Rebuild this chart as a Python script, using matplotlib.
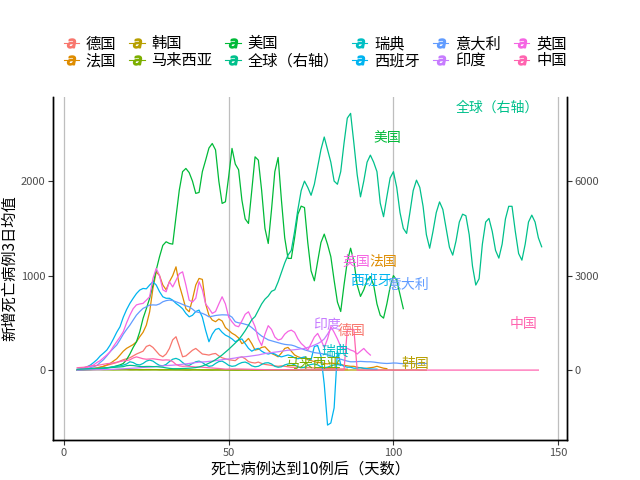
import matplotlib
matplotlib.use("Agg")
import matplotlib.pyplot as plt
from matplotlib.lines import Line2D
import numpy as np

plt.rcParams['font.family'] = ['Noto Sans CJK SC', 'DejaVu Sans']
plt.rcParams['axes.unicode_minus'] = False

# 各序列均从第4天开始，逐日取值（3日均值）
START = 4

germany = [3, 5, 8, 12, 15, 20, 25, 32, 40, 50,
           60, 70, 80, 95, 110, 120, 130, 150, 170, 185,
           200, 250, 264, 240, 200, 160, 141, 170, 229, 320,
           353, 250, 141, 150, 180, 210, 229, 200, 170, 165,
           159, 170, 176, 150, 130, 120, 110, 105, 100, 130,
           140, 120, 90, 80, 75, 85, 70, 60, 55, 50,
           45, 40, 45, 40, 35, 30, 30, 30, 28, 25,
           25, 25, 22, 20, 20, 18, 18, 15, 15, 15,
           12, 12, 10]

france = [2, 3, 5, 7, 10, 14, 20, 30, 40, 55,
          70, 95, 120, 159, 200, 230, 250, 270, 300, 353,
          400, 476, 617, 864, 1040, 1000, 900, 850, 935, 1000,
          1093, 900, 780, 650, 617, 750, 900, 970, 960, 700,
          580, 530, 512, 540, 520, 450, 420, 390, 370, 340,
          280, 300, 335, 280, 212, 220, 240, 247, 210, 176,
          160, 141, 180, 229, 240, 200, 160, 141, 130, 130,
          110, 100, 90, 80, 80, 70, 65, 75, 70, 70,
          60, 50, 45, 40, 40, 30, 25, 18, 20, 25,
          30, 40, 30, 20, 15]

korea = [3, 4, 5, 5, 6, 6, 7, 7, 6, 6,
         5, 5, 6, 6, 5, 5, 4, 4, 5, 5,
         5, 6, 6, 5, 5, 4, 4, 4, 5, 5,
         4, 4, 3, 3, 3, 4, 4, 3, 3, 3,
         3, 2, 2, 2, 2, 2, 2, 2, 1, 1,
         1, 1, 1, 1, 1, 1, 1, 1, 1, 1,
         1, 1, 1, 1, 1, 1, 0, 0, 0, 1,
         1, 1, 1, 1, 1, 0, 0, 0, 0, 0,
         0, 0, 0, 1, 1, 1, 0, 0, 0, 0,
         0, 0, 1, 1, 1, 1, 0, 0, 0, 0,
         0, 1, 1, 1, 0, 0, 0]

malaysia = [1, 2, 2, 3, 3, 4, 4, 4, 3, 3,
            3, 2, 2, 2, 3, 3, 2, 2, 2, 1,
            1, 1, 1, 2, 2, 1, 1, 1, 1, 1,
            1, 1, 1, 0, 0, 1, 1, 1, 0, 0,
            0, 0, 1, 1, 1, 0, 0, 0, 0, 0,
            1, 1, 1, 0, 0, 0, 0, 0, 0, 0,
            0, 0, 0, 0, 0, 0, 0, 0, 1, 1,
            1, 0, 0, 0, 0, 0, 0, 0, 0, 0]

usa = [2, 3, 4, 5, 6, 8, 10, 14, 18, 22,
       28, 35, 45, 55, 70, 110, 170, 240, 300, 406,
       547, 650, 760, 900, 1060, 1200, 1320, 1358, 1340, 1333,
       1622, 1905, 2100, 2134, 2090, 2000, 1870, 1880, 2100, 2222,
       2350, 2398, 2330, 2000, 1764, 1781, 2050, 2346, 2180, 2120,
       1800, 1600, 1552, 1900, 2257, 2222, 1900, 1500, 1340, 1700,
       2100, 2250, 1800, 1400, 1182, 1182, 1400, 1650, 1735, 1720,
       1350, 1050, 945, 1150, 1350, 1439, 1330, 1200, 950, 720,
       620, 900, 1150, 1290, 1150, 900, 780, 850, 950, 990,
       900, 700, 580, 550, 700, 880, 1000, 950, 800, 650]

world = [25, 30, 35, 40, 45, 50, 55, 60, 65, 72,
         78, 85, 92, 100, 110, 140, 150, 145, 130, 115,
         110, 115, 115, 110, 110, 100, 90, 70, 55, 45,
         45, 45, 50, 55, 60, 70, 80,
         100, 130, 170, 220, 270, 330, 400, 480, 570, 660,
         760, 860, 960, 1100, 1250, 1420, 1600, 1700, 1900, 2100,
         2250, 2350, 2500, 2550, 2800, 3100, 3400, 3650, 3800, 4400,
         5100, 5700, 6000, 5800, 5550, 5900, 6450, 7000, 7400, 7000,
         6600, 6000, 5900,
         6300, 7200, 8000, 8150, 7200, 6200, 5500, 6000, 6600, 6825,
         6600, 6300, 5300, 4870, 5500, 6100, 6300, 5800, 5000, 4500,
         4340, 5000, 5700, 6030, 5800, 5200, 4300, 3870, 4400, 5000,
         5340, 5100, 4500, 3900, 3650, 4100, 4700, 4950, 4900, 4300,
         3300, 2700, 2900, 4000, 4700, 4815, 4400, 3800, 3555, 4000,
         4800, 5200, 5200, 4400, 3700, 3490, 4000, 4700, 4920, 4700,
         4200, 3915]

sweden = [3, 4, 6, 8, 10, 12, 15, 18, 20, 25,
          30, 35, 40, 45, 53, 65, 88, 80, 60, 55,
          70, 95, 106, 95, 70, 50, 45, 60, 90, 115,
          124, 110, 80, 55, 50, 70, 88, 95, 80, 55,
          40, 45, 70, 90, 95, 75, 50, 40, 45, 65,
          80, 85, 70, 45, 35, 40, 60, 75, 78, 65,
          40, 30, 35, 55, 65, 70, 55, 35, 25, 30,
          50, 60, 65, 55, 35, 25, 30, 45, 55, 60,
          50]

spain = [5, 10, 20, 35, 53, 80, 110, 150, 180, 212,
         265, 330, 400, 459, 560, 640, 706, 760, 810, 847,
         864, 860, 900, 935, 900, 830, 776, 760, 760, 740,
         706, 680, 650, 600, 564, 580, 620, 635, 560, 420,
         300, 380, 430, 441, 400, 370, 353, 330, 300, 320,
         330, 280, 230, 200, 220, 230, 200, 180, 170, 180,
         170, 150, 140, 150, 160, 150, 130, 120, 130, 140,
         120, 110, 250, 260, 150, -150, -582, -560, -400, 200,
         60, 40, 30, 30, 20, 20, 25, 20, 15, 12,
         10, 10]

italy = [5, 8, 12, 18, 25, 35, 50, 80, 110, 150,
         194, 230, 265, 320, 380, 430, 476, 530, 582, 620,
         653, 670, 688, 690, 688, 700, 723, 735, 741, 735,
         723, 710, 695, 680, 670, 645, 617, 610, 600, 585,
         564, 570, 578, 582, 585, 584, 582, 560, 511, 500,
         495, 485, 476, 450, 420, 388, 360, 340, 320, 310,
         300, 290, 280, 272, 268, 265, 255, 240, 229, 215,
         205, 194, 185, 180, 176, 170, 160, 150, 140, 125,
         115, 105, 95, 88, 88, 90, 92, 90, 88, 88,
         85, 80, 75, 72, 70, 72, 75, 74, 70, 68,
         70, 72, 70, 68, 70, 72, 70]

india = [1, 1, 2, 2, 3, 3, 4, 4, 5, 6,
         7, 8, 10, 12, 14, 16, 18, 20, 22, 25,
         28, 30, 32, 35, 38, 42, 45, 48, 50, 52,
         55, 58, 62, 66, 70, 75, 80, 84, 86, 88,
         92, 95, 100, 105, 110, 115, 118, 123, 128, 135,
         138, 141, 145, 150, 155, 160, 168, 175, 180, 185,
         190, 194, 200, 205, 210, 212, 216, 220, 225, 229,
         240, 250, 265, 280, 300, 330, 380, 440]

uk = [8, 12, 18, 28, 40, 55, 80, 100, 130, 160,
      194, 250, 300, 350, 406, 500, 582, 650, 690, 700,
      706, 740, 776, 970, 1076, 1000, 850, 829, 935, 880,
      950, 1020, 1040, 900, 740, 720, 760, 935, 850, 700,
      653, 600, 620, 700, 776, 700, 560, 511, 470, 459,
      520, 590, 617, 540, 459, 330, 260, 380, 470, 430,
      350, 318, 330, 380, 410, 423, 400, 330, 282, 250,
      212, 280, 350, 388, 320, 240, 330, 460, 400, 330,
      250, 220, 230, 212, 200, 170, 200, 229, 190, 159]

china = [25, 27, 30, 37, 42, 45, 49, 55, 62, 68,
         71, 77, 83, 91, 98, 101, 109, 128, 140, 130,
         120, 115, 118, 120, 115, 110, 105, 108, 106, 90,
         60, 45, 40, 42, 40, 36, 33, 33, 30, 28,
         25, 22, 20, 17, 13, 10, 11, 12, 12, 12,
         11, 10, 9, 8, 7, 6, 5, 5, 4, 4,
         4, 4, 3, 3, 3, 3, 3, 2, 2, 2,
         2, 2, 2, 2, 1, 1, 1, 1, 1, 1,
         1, 1, 430, 430, 430, 0, 0, 0, 0, 0,
         0, 0, 0, 0, 0, 0, 0, 0, 0, 0,
         0, 0, 0, 0, 0, 0, 0, 0, 0, 0,
         0, 0, 0, 0, 0, 0, 0, 0, 0, 0,
         0, 0, 0, 0, 0, 0, 0, 0, 0, 0,
         0, 0, 0, 0, 0, 0, 0, 0, 0, 0,
         0]

names = ["德国", "法国", "韩国", "马来西亚", "美国", "全球（右轴）",
         "瑞典", "西班牙", "意大利", "印度", "英国", "中国"]
series = [germany, france, korea, malaysia, usa, world,
          sweden, spain, italy, india, uk, china]
colors = ["#F8766D", "#DE8C00", "#B79F00", "#7CAE00", "#00BA38", "#00C08B",
          "#00BFC4", "#00B4F0", "#619CFF", "#C77CFF", "#F564E3", "#FF64B0"]

# 标签位置（左轴坐标）
label_pos = {
    "德国": (87.4, 413), "法国": (96.8, 1143), "韩国": (106.5, 63),
    "马来西亚": (75.6, 63), "美国": (98.3, 2455), "全球（右轴）": (131.4, 2772),
    "瑞典": (82.5, 190), "西班牙": (93.2, 952), "意大利": (104.4, 899),
    "印度": (79.8, 476), "英国": (88.6, 1143), "中国": (139.6, 487),
}

fig = plt.figure(figsize=(6.4, 4.8), dpi=100)
ax = fig.add_axes([0.083, 0.0833, 0.803, 0.7146])
ax2 = ax.twinx()

for name, vals, c in zip(names, series, colors):
    x = np.arange(START, START + len(vals))
    target = ax2 if name == "全球（右轴）" else ax
    target.plot(x, vals, color=c, linewidth=0.9)
    lx, ly = label_pos[name]
    ax.text(lx, ly, name, color=c, fontsize=10, ha="center", va="center", zorder=5)

ax.set_xlim(-3.3, 152.7)
ax.set_ylim(-740, 2890)
ax2.set_ylim(-2220, 8670)
ax.set_xticks([0, 50, 100, 150])
ax.set_yticks([0, 1000, 2000])
ax2.set_yticks([0, 3000, 6000])
ax.grid(axis="x", color="#BEBEBE", linewidth=0.9)
ax.set_axisbelow(True)

for a in (ax, ax2):
    a.spines["top"].set_visible(False)
    for s in ("left", "right", "bottom"):
        a.spines[s].set_linewidth(1.0)
    a.tick_params(direction="out", length=3.5, width=0.8, color="#333333",
                  labelsize=8, labelcolor="#4D4D4D", pad=2)

ax.set_xlabel("死亡病例达到10例后（天数）", fontsize=11, labelpad=2)
ax.set_ylabel("新增死亡病例3日均值", fontsize=11, labelpad=2)

handles = [Line2D([0], [0], color=c, linewidth=0.8, marker="$a$", markersize=6.5)
           for c in colors]
fig.legend(handles, names, loc="upper left", bbox_to_anchor=(0.078, 0.955),
           ncol=6, frameon=False, fontsize=11, handlelength=1.0,
           handletextpad=0.45, columnspacing=0.85, labelspacing=0.0)

fig.savefig("out.png", dpi=100)
